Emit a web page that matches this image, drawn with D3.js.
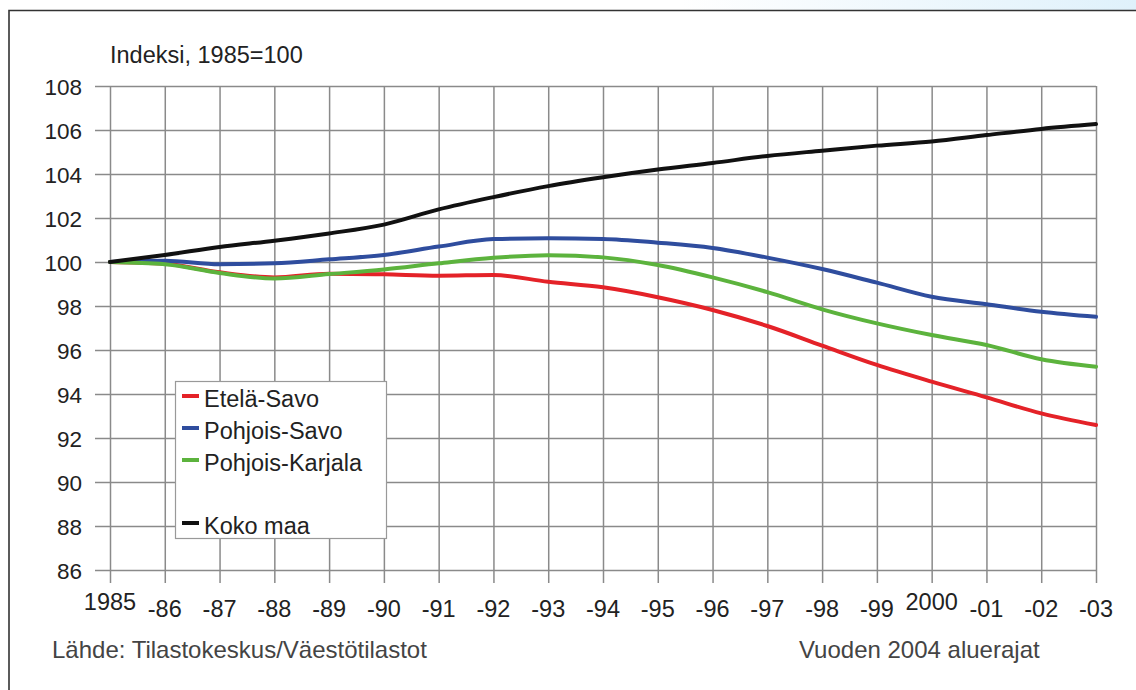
<!DOCTYPE html>
<html>
<head>
<meta charset="utf-8">
<script src="https://cdn.jsdelivr.net/npm/d3@7"></script>
<style>
  body { margin: 0; background: #fff; }
  svg { display: block; font-family: "Liberation Sans", Arial, sans-serif; }
</style>
</head>
<body>
<div id="chart"></div>
<script>
// years on the x axis and their printed labels
const years = d3.range(1985, 2004);
const yearLabels = ['1985', '-86', '-87', '-88', '-89', '-90', '-91', '-92', '-93', '-94',
    '-95', '-96', '-97', '-98', '-99', '2000', '-01', '-02', '-03'];
const yTicks = [86, 88, 90, 92, 94, 96, 98, 100, 102, 104, 106, 108];

// index values, 1985 = 100
const etelaSavo = [100, 99.92, 99.53, 99.3, 99.47, 99.44, 99.38, 99.41, 99.1, 98.85,
    98.4, 97.82, 97.09, 96.2, 95.32, 94.56, 93.85, 93.12, 92.59];
const pohjoisSavo = [100, 100.06, 99.9, 99.94, 100.12, 100.32, 100.7, 101.04, 101.08, 101.05,
    100.88, 100.64, 100.2, 99.68, 99.06, 98.42, 98.08, 97.74, 97.51];
const pohjoisKarjala = [100, 99.9, 99.5, 99.25, 99.45, 99.66, 99.94, 100.19, 100.31, 100.21,
    99.86, 99.3, 98.63, 97.85, 97.21, 96.68, 96.23, 95.58, 95.24];
const kokoMaa = [100, 100.32, 100.68, 100.97, 101.3, 101.7, 102.39, 102.95, 103.45, 103.85,
    104.2, 104.5, 104.82, 105.06, 105.29, 105.48, 105.77, 106.05, 106.27];

const seriesNames = ['Etelä-Savo', 'Pohjois-Savo', 'Pohjois-Karjala', 'Koko maa'];
const seriesColors = ['#e42228', '#2f4d9e', '#5cb33d', '#111111'];
const seriesValues = [etelaSavo, pohjoisSavo, pohjoisKarjala, kokoMaa];

const W = 1136, H = 690;
const plot = { left: 110, right: 1096, top: 86, bottom: 570 };

const svg = d3.select('#chart')
    .append('svg')
    .attr('width', W)
    .attr('height', H);

// light blue strip at top right
const defs = svg.append('defs');
const grad = defs.append('linearGradient').attr('id', 'topfade')
    .attr('x1', '0%').attr('x2', '100%');
grad.append('stop').attr('offset', '0%').attr('stop-color', '#ffffff');
grad.append('stop').attr('offset', '100%').attr('stop-color', '#dff1fb');
svg.append('rect')
    .attr('x', 680).attr('y', 0)
    .attr('width', W - 680).attr('height', 10)
    .attr('fill', 'url(#topfade)');

// outer frame (top and left)
svg.append('path')
    .attr('d', `M9,${H} V10.5 H${W}`)
    .attr('fill', 'none')
    .attr('stroke', '#333')
    .attr('stroke-width', 1.6);

const x = d3.scaleLinear()
    .domain([1985, 2003])
    .range([plot.left, plot.right]);

const y = d3.scaleLinear()
    .domain([86, 108])
    .range([plot.bottom, plot.top]);

// horizontal grid + y tick marks
const yAxis = d3.axisLeft(y)
    .tickValues(yTicks)
    .tickSize(-(plot.right - plot.left) - 15)
    .tickPadding(13)
    .tickFormat(d3.format('d'));

const gy = svg.append('g')
    .attr('transform', `translate(${plot.left - 15},0)`)
    .call(yAxis);
gy.select('.domain').remove();
gy.selectAll('line').attr('stroke', '#8a8a8a').attr('stroke-width', 1.5);
gy.selectAll('text')
    .attr('font-size', 22.5)
    .attr('fill', '#222')
    .attr('dy', '0.36em');

// vertical grid + x tick marks
const xAxis = d3.axisBottom(x)
    .tickValues(years)
    .tickSize(-(plot.bottom - plot.top) - 13)
    .tickFormat('');

const gx = svg.append('g')
    .attr('transform', `translate(0,${plot.bottom + 13})`)
    .call(xAxis);
gx.select('.domain').remove();
gx.selectAll('line').attr('stroke', '#8a8a8a').attr('stroke-width', 1.5);

// x labels (1985 and 2000 sit a little higher)
svg.append('g').selectAll('text')
    .data(years)
    .join('text')
    .attr('x', d => x(d))
    .attr('y', (d, i) => (yearLabels[i].length === 4 ? 610 : 617))
    .attr('text-anchor', 'middle')
    .attr('font-size', 23.5)
    .attr('fill', '#222')
    .text((d, i) => yearLabels[i]);

// series lines
const line = d3.line()
    .x((d, i) => x(years[i]))
    .y(d => y(d))
    .curve(d3.curveMonotoneX);

svg.append('g').selectAll('path')
    .data(seriesValues)
    .join('path')
    .attr('d', d => line(d))
    .attr('fill', 'none')
    .attr('stroke', (d, i) => seriesColors[i])
    .attr('stroke-width', 4)
    .attr('stroke-linejoin', 'round')
    .attr('stroke-linecap', 'round');

// legend
const legend = svg.append('g');
legend.append('rect')
    .attr('x', 175.5).attr('y', 381.5)
    .attr('width', 211).attr('height', 157)
    .attr('fill', '#fff')
    .attr('stroke', '#999')
    .attr('stroke-width', 1.2);

const legendRows = [396, 428, 460, 523];
const item = legend.selectAll('g.item')
    .data(seriesNames)
    .join('g')
    .attr('class', 'item')
    .attr('transform', (d, i) => `translate(0,${legendRows[i]})`);

item.append('line')
    .attr('x1', 182).attr('x2', 199)
    .attr('stroke', (d, i) => seriesColors[i])
    .attr('stroke-width', 4);

item.append('text')
    .attr('x', 204)
    .attr('y', 11)
    .attr('font-size', 23.5)
    .attr('fill', '#222')
    .text(d => d);

// titles and notes
svg.append('text')
    .attr('x', 110).attr('y', 63)
    .attr('font-size', 23.5)
    .attr('fill', '#222')
    .text('Indeksi, 1985=100');

svg.append('text')
    .attr('x', 52).attr('y', 658)
    .attr('font-size', 24)
    .attr('fill', '#444')
    .text('Lähde: Tilastokeskus/Väestötilastot');

svg.append('text')
    .attr('x', 799).attr('y', 658)
    .attr('font-size', 24)
    .attr('fill', '#444')
    .text('Vuoden 2004 aluerajat');
</script>
</body>
</html>
